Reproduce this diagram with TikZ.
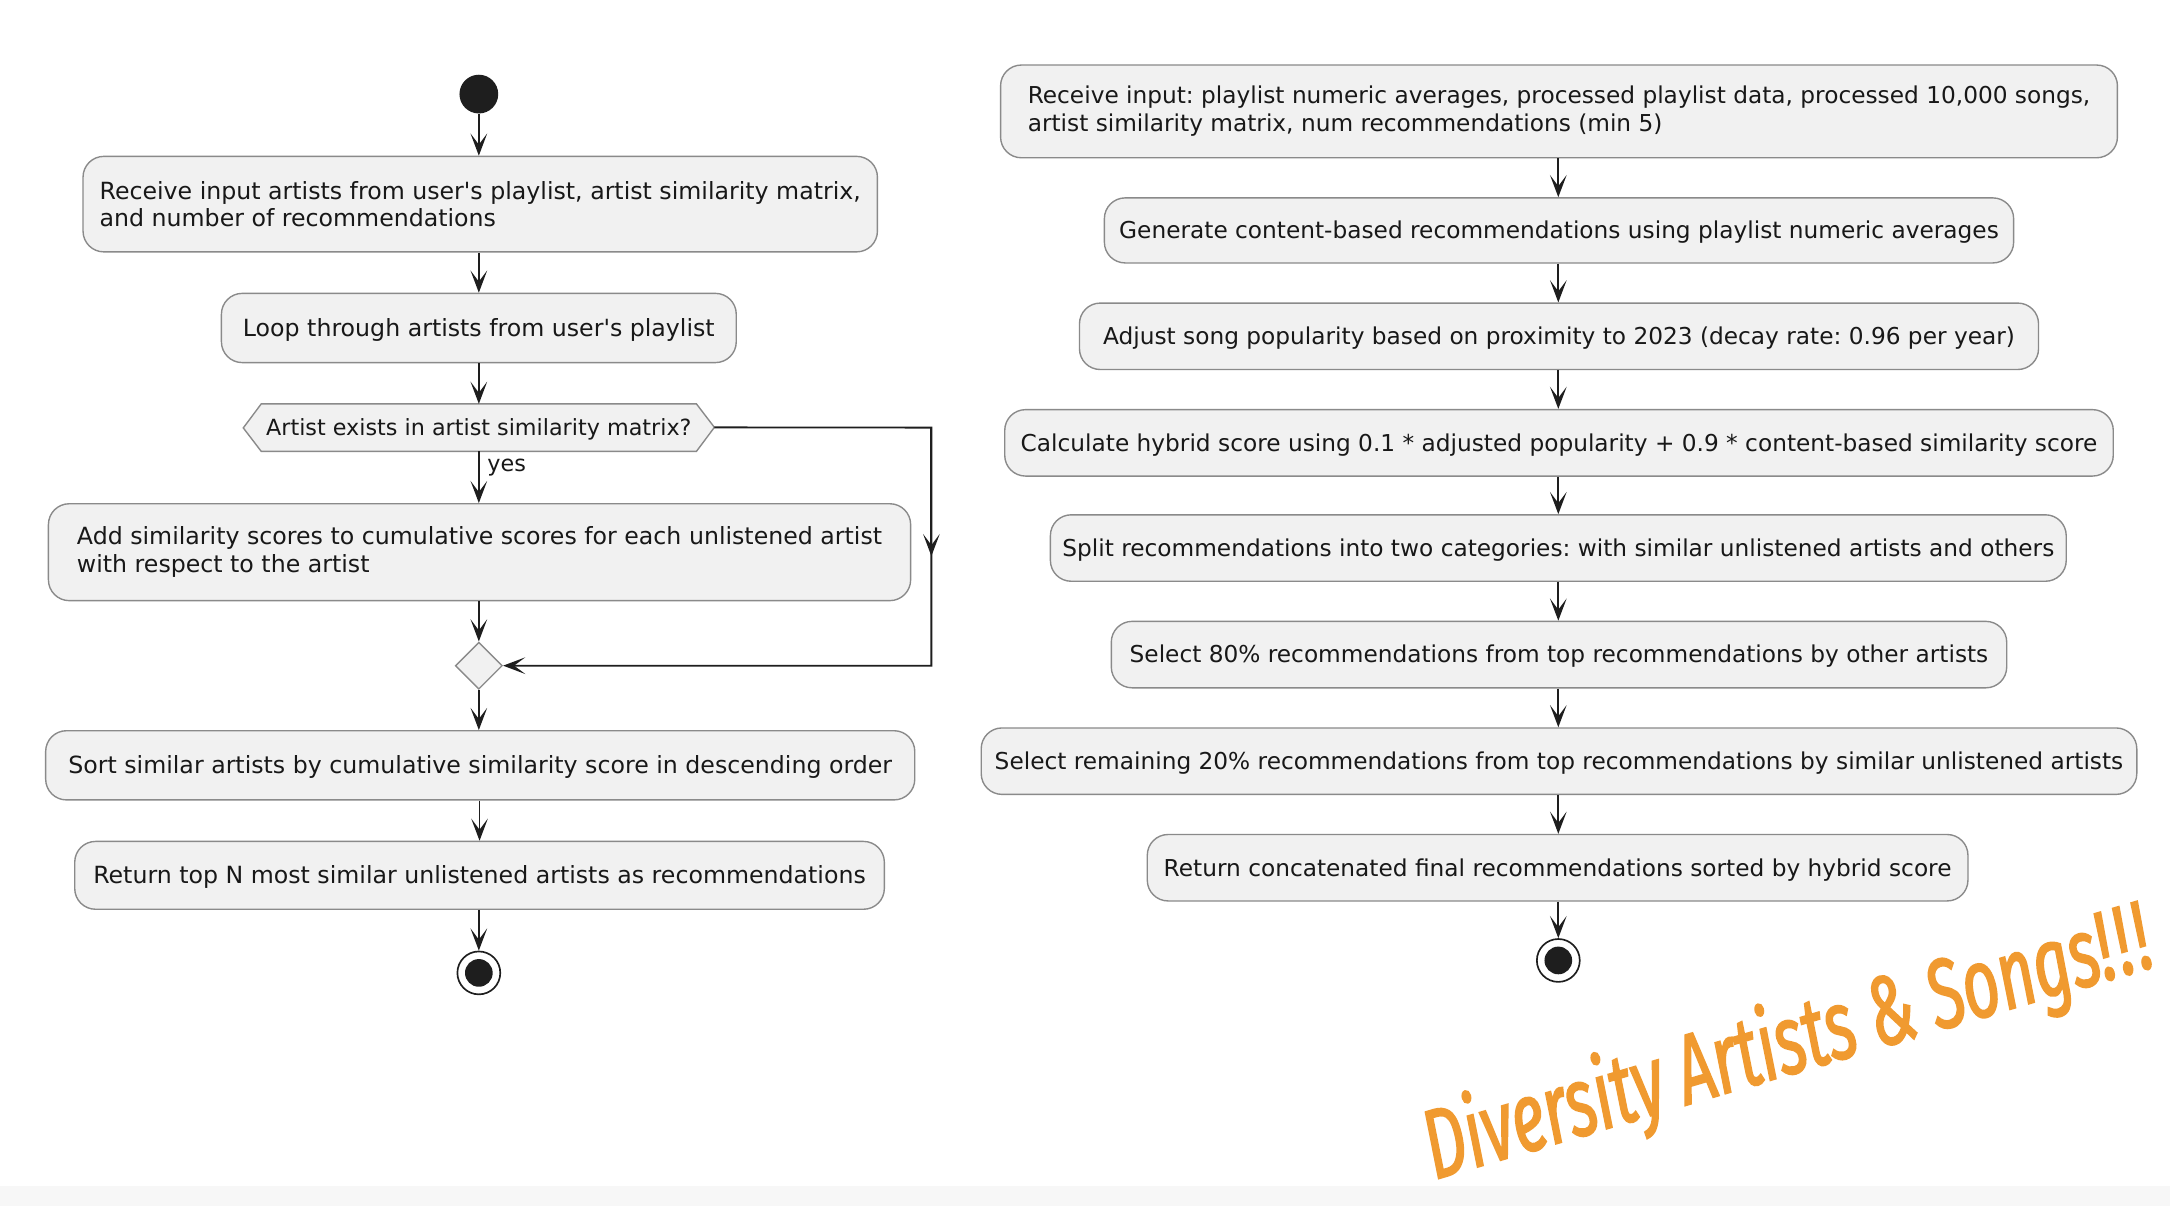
\documentclass[tikz,border=0pt]{standalone}
\usepackage{fontspec}
\setmainfont{DejaVu Sans}[Ligatures=TeXOff]
\newfontfamily\handfont{Fira Sans}[FakeStretch=0.65, FakeBold=1.6]
\usetikzlibrary{shapes.geometric,arrows.meta,calc}
\definecolor{actfill}{HTML}{F1F1F1}
\definecolor{actborder}{HTML}{8A8A8A}
\definecolor{linecol}{HTML}{1E1E1E}
\definecolor{txtcol}{HTML}{181818}
\definecolor{orangetxt}{HTML}{F09A30}
\begin{document}
\frenchspacing
\begin{tikzpicture}[x=1pt,y=-1pt,
  act/.style={draw=actborder, line width=1pt, fill=actfill, rounded corners=15pt,
    inner xsep=4pt, inner ysep=2pt, text=txtcol, align=left},
  actL/.style={act, font=\fontsize{17.1}{20}\selectfont},
  actR/.style={act, font=\fontsize{16.8}{20}\selectfont},
  one/.style={text height=13pt, text depth=1pt},
  flow/.style={draw=linecol, line width=1.3pt, -{Stealth[length=16pt,width=12pt,inset=8pt]}},
  startdot/.style={circle, fill=linecol, minimum size=28pt, inner sep=0pt},
  enddot/.style={circle, draw=linecol, line width=1.2pt, fill=white, minimum size=31pt, inner sep=0pt,
    path picture={\fill[linecol] (path picture bounding box.center) circle (10pt);}},
  lbl/.style={font=\fontsize{16.1}{18}\selectfont, text=txtcol, inner sep=0pt}
]
\fill[white] (0,0) rectangle (1568,871.4);
\fill[black!3] (0,857) rectangle (1568,871.4);
\useasboundingbox (0,0) rectangle (1568,871.4);

% ---------------- left diagram ----------------
\node[startdot] (ls) at (346,68) {};
\node[actL, minimum width=574pt, minimum height=69pt] (l1) at (347,147.5)
  {Receive input artists from user's playlist, artist similarity matrix,\\and number of recommendations};
\node[actL, one, minimum width=372pt, minimum height=50pt] (l2) at (346,237)
  {Loop through artists from user's playlist};
\node[minimum width=314pt, minimum height=34pt, inner sep=0pt] (hex) at (346,309) {};
\draw[draw=actborder, line width=1pt, fill=actfill]
  (hex.north west) -- (hex.north east) -- ++(13,17) coordinate (hexR) -- (hex.south east)
  -- (hex.south west) -- ++(-13,-17) -- cycle;
\node[lbl, text height=12pt, text depth=1pt] at (hex.center) {Artist exists in artist similarity matrix?};
\node[actL, minimum width=623pt, minimum height=70pt] (l3) at (346.5,399)
  {Add similarity scores to cumulative scores for each unlistened artist\\with respect to the artist};
\node[diamond, draw=actborder, line width=1pt, fill=actfill, minimum width=34pt, minimum height=34pt, inner sep=0pt] (dia) at (346,481) {};
\node[actL, one, minimum width=628pt, minimum height=50pt] (l4) at (347,553)
  {Sort similar artists by cumulative similarity score in descending order};
\node[actL, one, minimum width=585pt, minimum height=49pt] (l5) at (346.5,632.5)
  {Return top N most similar unlistened artists as recommendations};
\node[enddot] (le) at (346,703) {};

\draw[flow] (ls) -- (ls |- l1.north);
\draw[flow] (l1.south -| l2.north) -- (l2.north);
\draw[flow] (l2.south) -- (hex.north);
\draw[flow] (hex.south) -- (hex.south |- l3.north);
\node[lbl, anchor=west] (yes) at (352,338) {yes};
\draw[flow] (l3.south -| dia.north) -- (dia.north);
\draw[flow] (dia.south) -- (dia.south |- l4.north);
\draw[flow] (l4.south -| l5.north) -- (l5.north);
\draw[flow] (l5.south -| le.north) -- (le.north);
\coordinate (c1) at (673,309);
\coordinate (c2) at (673,481);
\draw[flow] (hexR) -- (c1) -- (c2) -- (dia.east);
\draw[flow] (c1) -- ($(c1)!0.54!(c2)$);

% ---------------- right diagram ----------------
\node[actR, minimum width=807pt, minimum height=67pt] (r1) at (1126.5,80.5)
  {Receive input: playlist numeric averages, processed playlist data, processed 10,000 songs,\\artist similarity matrix, num recommendations (min 5)};
\node[actR, one, minimum width=657pt, minimum height=47pt] (r2) at (1126.5,166.5)
  {Generate content-based recommendations using playlist numeric averages};
\node[actR, one, minimum width=693pt, minimum height=48pt] (r3) at (1126.5,243)
  {Adjust song popularity based on proximity to 2023 (decay rate: 0.96 per year)};
\node[actR, one, minimum width=801pt, minimum height=48pt] (r4) at (1126.5,320)
  {Calculate hybrid score using 0.1 * adjusted popularity + 0.9 * content-based similarity score};
\node[actR, one, minimum width=734pt, minimum height=48pt] (r5) at (1126,396)
  {Split recommendations into two categories: with similar unlistened artists and others};
\node[actR, one, minimum width=647pt, minimum height=48pt] (r6) at (1126.5,473)
  {Select 80\% recommendations from top recommendations by other artists};
\node[actR, one, minimum width=835pt, minimum height=48pt] (r7) at (1126.5,550)
  {Select remaining 20\% recommendations from top recommendations by similar unlistened artists};
\node[actR, one, minimum width=593pt, minimum height=48pt] (r8) at (1125.5,627)
  {Return concatenated final recommendations sorted by hybrid score};
\node[enddot] (re) at (1126,694) {};

\foreach \a/\b in {r1/r2,r2/r3,r3/r4,r4/r5,r5/r6,r6/r7,r7/r8}{
  \draw[flow] (\a.south -| re.north) -- (re.north |- \b.north);
}
\draw[flow] (r8.south -| re.north) -- (re.north);

% ---------------- slogan ----------------
\node[rotate=16.5, text=orangetxt, inner sep=0pt,
  font=\handfont\itshape\fontsize{71}{71}\selectfont] (slogan) at (1292,756)
  {Diversity Artists \& Songs!\kern3pt!\kern3pt!};
\end{tikzpicture}
\end{document}
